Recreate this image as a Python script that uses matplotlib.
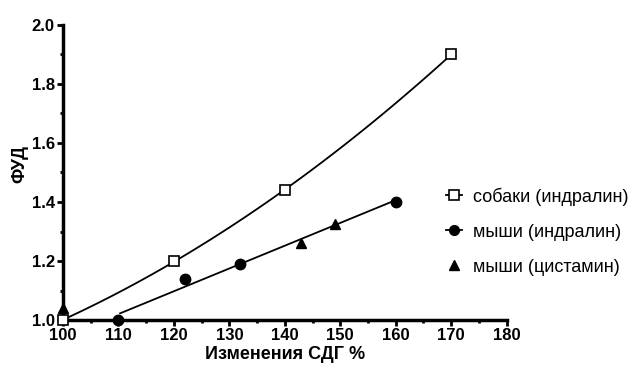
import matplotlib
matplotlib.use("Agg")
import matplotlib.pyplot as plt
import numpy as np
from matplotlib.ticker import MultipleLocator
from matplotlib.lines import Line2D

plt.rcParams['font.family'] = ['Liberation Sans', 'DejaVu Sans']

# data
dogs_x = [100, 120, 140, 170]
dogs_y = [1.00, 1.20, 1.44, 1.90]
mice_ind_x = [110, 122, 132, 160]
mice_ind_y = [1.00, 1.14, 1.19, 1.40]
mice_cys_x = [100, 143, 149]
mice_cys_y = [1.04, 1.26, 1.325]
labels = ['собаки (индралин)', 'мыши (индралин)', 'мыши (цистамин)']

fig = plt.figure(figsize=(6.32, 3.67), dpi=100)
ax = fig.add_axes([0.0997, 0.128, 0.702, 0.804])

# fitted curves
c1 = np.polyfit(dogs_x, dogs_y, 2)
xx = np.linspace(100, 170, 100)
ax.plot(xx, np.polyval(c1, xx), color='black', lw=1.3, clip_on=False)

c2 = np.polyfit(mice_ind_x, mice_ind_y, 1)
xx2 = np.linspace(110.3, 160, 100)
ax.plot(xx2, np.polyval(c2, xx2), color='black', lw=1.3, clip_on=False)

ax.plot(dogs_x, dogs_y, 's', ms=7.5, mfc='white', mec='black', mew=1.2,
        clip_on=False, zorder=5)
ax.plot(mice_ind_x, mice_ind_y, 'o', ms=7.5, color='black',
        clip_on=False, zorder=5)
ax.plot(mice_cys_x, mice_cys_y, '^', ms=7, color='black',
        clip_on=False, zorder=5)

ax.set_xlim(100, 180)
ax.set_ylim(1.0, 2.0)
ax.set_xticks(range(100, 181, 10))
ax.xaxis.set_minor_locator(MultipleLocator(5))
ax.set_yticks([1.0, 1.2, 1.4, 1.6, 1.8, 2.0])
ax.set_yticklabels(['1.0', '1.2', '1.4', '1.6', '1.8', '2.0'])
ax.yaxis.set_minor_locator(MultipleLocator(0.1))

for s in ['top', 'right']:
    ax.spines[s].set_visible(False)
for s in ['left', 'bottom']:
    ax.spines[s].set_linewidth(2.5)
ax.tick_params(which='major', length=4, width=2, labelsize=12, pad=2)
ax.tick_params(which='minor', length=2, width=2)
for lab in ax.get_xticklabels() + ax.get_yticklabels():
    lab.set_fontweight('bold')

ax.set_xlabel('Изменения СДГ %', fontsize=13, fontweight='bold', labelpad=2)
ax.set_ylabel('ФУД', fontsize=13, fontweight='bold')
ax.yaxis.set_label_coords(-0.078, 0.53)

handles = [
    Line2D([], [], color='black', lw=1.3, marker='s', ms=7, mfc='white',
           mec='black', mew=1.2),
    Line2D([], [], color='black', lw=1.3, marker='o', ms=7),
    Line2D([], [], color='black', lw=0, marker='^', ms=6.5),
]
fig.legend(handles, labels, loc='upper left',
           bbox_to_anchor=(439 / 632, 1 - 180 / 367), frameon=False,
           fontsize=13, handlelength=0.9, handletextpad=0.6,
           labelspacing=1.0, borderaxespad=0)

fig.savefig('out.png', dpi=100)
